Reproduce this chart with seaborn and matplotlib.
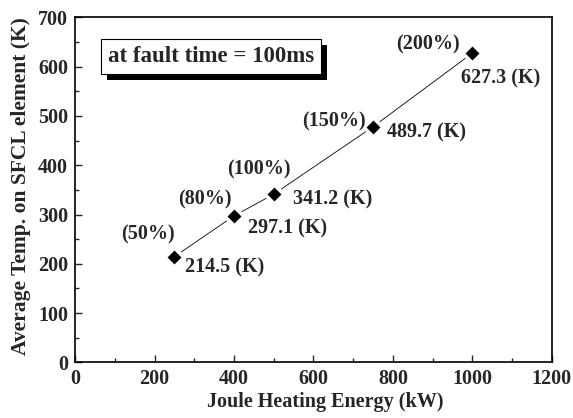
import matplotlib
matplotlib.use("Agg")
import matplotlib.pyplot as plt
import matplotlib.patheffects as pe
from matplotlib.ticker import MultipleLocator
import pandas as pd
import seaborn as sns

# data
energy_kw = [250, 400, 500, 750, 1000]
temp_k = [214.5, 297.1, 341.2, 478, 627.3]
pct_labels = ["(50%)", "(80%)", "(100%)", "(150%)", "(200%)"]
temp_labels = ["214.5 (K)", "297.1 (K)", "341.2 (K)", "489.7 (K)", "627.3 (K)"]

# label offsets from each point (points)
pct_offsets = [(-19, 16), (-21, 12), (-11, 18), (-28, 4), (-32, 6)]
temp_offsets = [(8, -8), (10, -9), (14, -4), (10, -4), (-8, -18)]

df = pd.DataFrame({"energy": energy_kw, "temp": temp_k})

sns.set_style("ticks")
plt.rcParams["font.family"] = ["Liberation Serif", "DejaVu Serif"]
plt.rcParams["font.weight"] = "bold"
plt.rcParams["axes.labelweight"] = "bold"

fig, ax = plt.subplots(figsize=(5.73, 4.18), dpi=100)
fig.subplots_adjust(left=0.131, right=0.963, bottom=0.133, top=0.9586)

sns.lineplot(data=df, x="energy", y="temp", color="black", linewidth=0.6, ax=ax)
sns.scatterplot(data=df, x="energy", y="temp", marker="D", color="black",
                edgecolor="white", linewidth=2.5, s=92, zorder=3, ax=ax)

fs = 14.5
for x, y, t, off in zip(energy_kw, temp_k, pct_labels, pct_offsets):
    ax.annotate(t, (x, y), xytext=off, textcoords="offset points",
                ha="center", va="center", fontsize=fs, fontweight="bold")
for x, y, t, off in zip(energy_kw, temp_k, temp_labels, temp_offsets):
    ax.annotate(t, (x, y), xytext=off, textcoords="offset points",
                ha="left", va="center", fontsize=fs, fontweight="bold")

txt = ax.text(0.285, 0.886, "at fault time = 100ms", transform=ax.transAxes,
              ha="center", va="center", fontsize=16.5, fontweight="bold",
              bbox=dict(boxstyle="square,pad=0.3", fc="white", ec="black", lw=0.8))
txt.get_bbox_patch().set_path_effects([
    pe.SimplePatchShadow(offset=(4.3, -4.3), shadow_rgbFace="black", alpha=1),
    pe.Normal()])

ax.set_xlim(0, 1200)
ax.set_ylim(0, 700)
ax.xaxis.set_major_locator(MultipleLocator(200))
ax.xaxis.set_minor_locator(MultipleLocator(100))
ax.yaxis.set_major_locator(MultipleLocator(100))
ax.yaxis.set_minor_locator(MultipleLocator(50))
ax.tick_params(which="both", direction="in", labelsize=14.5, width=1.0, pad=5)
ax.tick_params(which="major", length=5)
ax.tick_params(which="minor", length=3)
for lab in ax.get_xticklabels() + ax.get_yticklabels():
    lab.set_fontweight("bold")
for sp in ax.spines.values():
    sp.set_visible(True)
    sp.set_linewidth(1.2)
    sp.set_color("black")

ax.set_xlabel("Joule Heating Energy (kW)", fontsize=14.5, fontweight="bold")
ax.xaxis.set_label_coords(0.524, -0.085)
ax.set_ylabel("Average Temp. on SFCL element (K)", fontsize=15.5, fontweight="bold")
ax.yaxis.set_label_coords(-0.092, 0.51)

fig.savefig("out.png", dpi=100)
